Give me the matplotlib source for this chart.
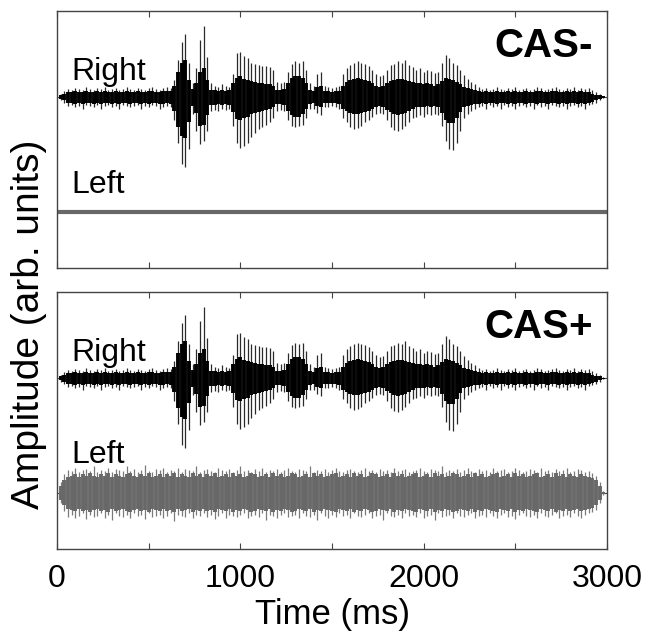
# 1. Imports
import numpy as np
import matplotlib
matplotlib.use("Agg")
import matplotlib.pyplot as plt

plt.rcParams["font.family"] = ["Liberation Sans", "DejaVu Sans"]


# 2. Data (envelopes, one value every 20 ms)
t_ms = np.arange(0, 3000, 20)

# right channel (speech): outer stroke tips
right_up = [0.00, 0.03, 0.05, 0.07, 0.06, 0.08, 0.07, 0.06, 0.09, 0.07,
            0.06, 0.08, 0.07, 0.09, 0.06, 0.07, 0.08, 0.06, 0.07, 0.09,
            0.07, 0.06, 0.08, 0.07, 0.06, 0.08, 0.09, 0.07, 0.06, 0.08,
            0.09, 0.08, 0.15, 0.32, 0.48, 0.55, 0.30, 0.12, 0.25, 0.50,
            0.62, 0.35, 0.12, 0.10, 0.09, 0.11, 0.10, 0.09, 0.20, 0.38,
            0.39, 0.36, 0.34, 0.30, 0.29, 0.28, 0.27, 0.27, 0.26, 0.24,
            0.13, 0.12, 0.13, 0.22, 0.29, 0.31, 0.30, 0.31, 0.24, 0.12,
            0.10, 0.20, 0.22, 0.10, 0.09, 0.08, 0.09, 0.10, 0.20, 0.25,
            0.28, 0.30, 0.31, 0.30, 0.29, 0.27, 0.24, 0.20, 0.18, 0.19,
            0.24, 0.28, 0.29, 0.31, 0.30, 0.32, 0.28, 0.26, 0.24, 0.25,
            0.22, 0.24, 0.23, 0.21, 0.22, 0.30, 0.37, 0.34, 0.30, 0.28,
            0.24, 0.19, 0.16, 0.13, 0.11, 0.09, 0.07, 0.08, 0.06, 0.07,
            0.09, 0.07, 0.06, 0.08, 0.07, 0.09, 0.06, 0.07, 0.08, 0.06,
            0.07, 0.09, 0.08, 0.06, 0.07, 0.08, 0.09, 0.07, 0.06, 0.08,
            0.07, 0.09, 0.06, 0.08, 0.07, 0.08, 0.06, 0.04, 0.03, 0.01]

right_lo = [0.00, 0.03, 0.05, 0.08, 0.07, 0.09, 0.08, 0.10, 0.07, 0.08,
            0.09, 0.07, 0.10, 0.08, 0.07, 0.09, 0.08, 0.10, 0.07, 0.08,
            0.09, 0.08, 0.07, 0.10, 0.08, 0.09, 0.07, 0.08, 0.10, 0.09,
            0.08, 0.09, 0.20, 0.40, 0.58, 0.61, 0.45, 0.15, 0.30, 0.41,
            0.38, 0.30, 0.12, 0.11, 0.12, 0.10, 0.11, 0.10, 0.25, 0.40,
            0.44, 0.43, 0.40, 0.35, 0.31, 0.28, 0.26, 0.24, 0.22, 0.18,
            0.12, 0.11, 0.12, 0.20, 0.25, 0.26, 0.25, 0.24, 0.18, 0.10,
            0.10, 0.14, 0.16, 0.09, 0.09, 0.08, 0.09, 0.10, 0.18, 0.22,
            0.26, 0.28, 0.27, 0.25, 0.22, 0.20, 0.17, 0.15, 0.14, 0.15,
            0.20, 0.26, 0.29, 0.30, 0.28, 0.25, 0.22, 0.18, 0.17, 0.16,
            0.17, 0.15, 0.16, 0.15, 0.16, 0.25, 0.38, 0.45, 0.46, 0.40,
            0.30, 0.18, 0.15, 0.12, 0.10, 0.09, 0.08, 0.10, 0.07, 0.09,
            0.08, 0.10, 0.07, 0.09, 0.08, 0.10, 0.08, 0.07, 0.09, 0.08,
            0.10, 0.07, 0.09, 0.08, 0.10, 0.07, 0.08, 0.09, 0.08, 0.10,
            0.08, 0.07, 0.09, 0.08, 0.10, 0.07, 0.06, 0.05, 0.03, 0.01]

# right channel: dense dark core
core_up = [0.00, 0.02, 0.03, 0.04, 0.04, 0.05, 0.04, 0.04, 0.05, 0.04,
           0.04, 0.05, 0.04, 0.05, 0.04, 0.04, 0.05, 0.04, 0.04, 0.05,
           0.04, 0.04, 0.05, 0.04, 0.04, 0.05, 0.05, 0.04, 0.04, 0.05,
           0.05, 0.05, 0.10, 0.22, 0.30, 0.32, 0.15, 0.07, 0.12, 0.22,
           0.25, 0.15, 0.06, 0.06, 0.05, 0.06, 0.05, 0.06, 0.12, 0.17,
           0.18, 0.16, 0.15, 0.14, 0.13, 0.12, 0.12, 0.11, 0.11, 0.10,
           0.06, 0.06, 0.07, 0.12, 0.17, 0.18, 0.18, 0.17, 0.12, 0.06,
           0.05, 0.09, 0.10, 0.05, 0.05, 0.04, 0.05, 0.05, 0.10, 0.13,
           0.15, 0.16, 0.17, 0.16, 0.15, 0.14, 0.12, 0.10, 0.09, 0.10,
           0.12, 0.14, 0.15, 0.16, 0.16, 0.15, 0.14, 0.13, 0.12, 0.12,
           0.11, 0.12, 0.11, 0.10, 0.11, 0.14, 0.17, 0.16, 0.15, 0.13,
           0.11, 0.09, 0.08, 0.07, 0.06, 0.05, 0.04, 0.05, 0.04, 0.04,
           0.05, 0.04, 0.04, 0.05, 0.04, 0.05, 0.04, 0.04, 0.05, 0.04,
           0.04, 0.05, 0.05, 0.04, 0.04, 0.05, 0.05, 0.04, 0.04, 0.05,
           0.04, 0.05, 0.04, 0.05, 0.04, 0.04, 0.03, 0.02, 0.015, 0.005]

core_lo = [0.00, 0.02, 0.03, 0.05, 0.05, 0.06, 0.05, 0.06, 0.05, 0.05,
           0.06, 0.05, 0.06, 0.05, 0.05, 0.06, 0.05, 0.06, 0.05, 0.05,
           0.06, 0.05, 0.05, 0.06, 0.05, 0.06, 0.05, 0.05, 0.06, 0.06,
           0.05, 0.06, 0.12, 0.26, 0.34, 0.36, 0.22, 0.08, 0.14, 0.25,
           0.24, 0.16, 0.07, 0.07, 0.06, 0.07, 0.06, 0.07, 0.13, 0.19,
           0.20, 0.18, 0.17, 0.15, 0.14, 0.13, 0.12, 0.11, 0.10, 0.09,
           0.06, 0.06, 0.07, 0.12, 0.16, 0.17, 0.17, 0.15, 0.10, 0.06,
           0.05, 0.08, 0.09, 0.05, 0.05, 0.05, 0.05, 0.06, 0.10, 0.12,
           0.14, 0.15, 0.15, 0.14, 0.13, 0.12, 0.10, 0.09, 0.08, 0.09,
           0.11, 0.13, 0.15, 0.16, 0.15, 0.14, 0.12, 0.10, 0.09, 0.09,
           0.09, 0.08, 0.09, 0.08, 0.09, 0.14, 0.20, 0.23, 0.23, 0.18,
           0.13, 0.09, 0.08, 0.07, 0.06, 0.06, 0.05, 0.06, 0.05, 0.05,
           0.06, 0.05, 0.05, 0.06, 0.05, 0.06, 0.05, 0.05, 0.06, 0.05,
           0.05, 0.06, 0.05, 0.05, 0.06, 0.05, 0.05, 0.06, 0.05, 0.06,
           0.05, 0.05, 0.06, 0.05, 0.06, 0.05, 0.04, 0.03, 0.02, 0.005]

# left channel masker (CAS+ only): stroke tips and dense core
left_up = [0.00, 0.09, 0.16, 0.20, 0.19, 0.22, 0.18, 0.20, 0.21, 0.19,
           0.23, 0.18, 0.20, 0.19, 0.22, 0.18, 0.21, 0.20, 0.19, 0.23,
           0.19, 0.21, 0.18, 0.20, 0.24, 0.19, 0.18, 0.21, 0.20, 0.22,
           0.18, 0.20, 0.19, 0.22, 0.18, 0.21, 0.20, 0.19, 0.23, 0.18,
           0.20, 0.21, 0.19, 0.18, 0.22, 0.20, 0.19, 0.21, 0.18, 0.20,
           0.23, 0.19, 0.20, 0.18, 0.21, 0.19, 0.22, 0.18, 0.20, 0.19,
           0.21, 0.18, 0.20, 0.22, 0.19, 0.18, 0.21, 0.20, 0.19, 0.23,
           0.18, 0.20, 0.19, 0.21, 0.18, 0.20, 0.22, 0.19, 0.18, 0.20,
           0.21, 0.19, 0.18, 0.20, 0.22, 0.19, 0.20, 0.18, 0.21, 0.19,
           0.20, 0.18, 0.22, 0.19, 0.20, 0.21, 0.18, 0.19, 0.20, 0.22,
           0.19, 0.18, 0.21, 0.20, 0.19, 0.23, 0.18, 0.20, 0.19, 0.21,
           0.18, 0.20, 0.22, 0.19, 0.18, 0.21, 0.19, 0.20, 0.18, 0.22,
           0.19, 0.20, 0.21, 0.18, 0.19, 0.22, 0.20, 0.18, 0.19, 0.21,
           0.20, 0.18, 0.22, 0.19, 0.20, 0.18, 0.21, 0.19, 0.20, 0.22,
           0.18, 0.19, 0.21, 0.20, 0.18, 0.19, 0.17, 0.15, 0.09, 0.02]

left_lo = [0.00, 0.09, 0.16, 0.21, 0.19, 0.22, 0.20, 0.18, 0.23, 0.19,
           0.21, 0.20, 0.18, 0.22, 0.19, 0.24, 0.18, 0.20, 0.21, 0.19,
           0.22, 0.18, 0.20, 0.19, 0.23, 0.18, 0.21, 0.20, 0.19, 0.22,
           0.20, 0.18, 0.25, 0.19, 0.20, 0.21, 0.18, 0.22, 0.19, 0.20,
           0.18, 0.21, 0.19, 0.23, 0.20, 0.18, 0.22, 0.19, 0.20, 0.21,
           0.19, 0.18, 0.22, 0.20, 0.19, 0.21, 0.18, 0.24, 0.19, 0.20,
           0.22, 0.19, 0.18, 0.21, 0.20, 0.19, 0.22, 0.18, 0.20, 0.21,
           0.19, 0.24, 0.18, 0.20, 0.22, 0.19, 0.21, 0.18, 0.20, 0.19,
           0.22, 0.18, 0.20, 0.21, 0.19, 0.18, 0.22, 0.20, 0.19, 0.24,
           0.18, 0.20, 0.21, 0.19, 0.22, 0.18, 0.20, 0.19, 0.21, 0.18,
           0.22, 0.20, 0.19, 0.24, 0.18, 0.21, 0.20, 0.19, 0.22, 0.18,
           0.20, 0.21, 0.19, 0.18, 0.22, 0.20, 0.19, 0.21, 0.18, 0.20,
           0.22, 0.19, 0.18, 0.21, 0.20, 0.23, 0.19, 0.18, 0.20, 0.21,
           0.19, 0.22, 0.18, 0.20, 0.21, 0.19, 0.18, 0.22, 0.20, 0.19,
           0.21, 0.18, 0.20, 0.22, 0.19, 0.18, 0.17, 0.15, 0.09, 0.02]

left_core = [0.00, 0.06, 0.11, 0.14, 0.15, 0.16, 0.14, 0.16, 0.15, 0.17,
             0.15, 0.14, 0.16, 0.15, 0.17, 0.14, 0.16, 0.15, 0.14, 0.16,
             0.17, 0.15, 0.14, 0.16, 0.15, 0.17, 0.14, 0.15, 0.16, 0.14,
             0.16, 0.15, 0.17, 0.14, 0.16, 0.15, 0.14, 0.17, 0.15, 0.16,
             0.14, 0.16, 0.15, 0.17, 0.14, 0.15, 0.16, 0.14, 0.17, 0.15,
             0.16, 0.14, 0.15, 0.17, 0.16, 0.14, 0.15, 0.16, 0.14, 0.17,
             0.15, 0.16, 0.14, 0.15, 0.17, 0.16, 0.14, 0.15, 0.16, 0.14,
             0.17, 0.15, 0.16, 0.14, 0.15, 0.16, 0.17, 0.14, 0.15, 0.16,
             0.14, 0.17, 0.15, 0.16, 0.14, 0.15, 0.17, 0.16, 0.14, 0.15,
             0.16, 0.14, 0.17, 0.15, 0.16, 0.14, 0.15, 0.16, 0.17, 0.14,
             0.15, 0.16, 0.14, 0.17, 0.15, 0.16, 0.14, 0.15, 0.17, 0.16,
             0.14, 0.15, 0.16, 0.14, 0.17, 0.15, 0.16, 0.14, 0.15, 0.16,
             0.17, 0.14, 0.15, 0.16, 0.14, 0.17, 0.15, 0.16, 0.14, 0.15,
             0.16, 0.17, 0.14, 0.15, 0.16, 0.14, 0.17, 0.15, 0.16, 0.14,
             0.16, 0.15, 0.14, 0.16, 0.15, 0.14, 0.13, 0.11, 0.06, 0.01]

panels = ["CAS-", "CAS+"]
right_offset = 1.0
left_offset = 0.0
gray = "#686868"


# 3. Figure
fig = plt.figure(figsize=(6.53, 6.39), dpi=100)
ax_top = fig.add_axes([0.0873, 0.5806, 0.8423, 0.4022])
ax_bot = fig.add_axes([0.0873, 0.1408, 0.8423, 0.4022])


def draw_panel(ax, name):
    """Right channel (speech) on top, left channel below."""
    ax.vlines(t_ms, right_offset - np.array(right_lo), right_offset + np.array(right_up),
              color="#2a2a2a", lw=0.9, capstyle="butt")
    ax.vlines(t_ms, right_offset - np.array(core_lo), right_offset + np.array(core_up),
              color="black", lw=2.8, capstyle="butt")

    if name == "CAS+":
        lc = np.array(left_core)
        ax.vlines(t_ms, left_offset - np.array(left_lo), left_offset + np.array(left_up),
                  color="#7a7a7a", lw=0.9, capstyle="butt")
        ax.vlines(t_ms, left_offset - lc, left_offset + lc, color=gray, lw=2.8,
                  capstyle="butt")
    else:
        ax.plot([0, 3000], [left_offset, left_offset], color=gray, lw=3)

    ax.set_xlim(0, 3000)
    ax.set_ylim(-0.49, 1.75)
    ax.set_xticks([0, 500, 1000, 1500, 2000, 2500, 3000])
    ax.set_yticks([0, 1])
    ax.set_yticklabels([])
    ax.tick_params(direction="in", length=4, top=True, right=True, color="#444444",
                   labelsize=23, pad=11)
    for sp in ax.spines.values():
        sp.set_color("#444444")
        sp.set_linewidth(1.0)

    ax.text(0.027, 0.73, "Right", transform=ax.transAxes, fontsize=23, va="baseline")
    ax.text(0.027, 0.29 if name == "CAS-" else 0.335, "Left", transform=ax.transAxes,
            fontsize=23, va="baseline")
    ax.text(0.975, 0.82, name, transform=ax.transAxes, fontsize=29, fontweight="bold",
            ha="right", va="baseline")


draw_panel(ax_top, "CAS-")
draw_panel(ax_bot, "CAS+")
ax_top.set_xticklabels([])
ax_bot.set_xticklabels(["0", "", "1000", "", "2000", "", "3000"])
ax_bot.set_xlabel("Time (ms)", fontsize=25, labelpad=3)

fig.text(0.045, 0.493, "Amplitude (arb. units)", rotation=90, fontsize=28,
         ha="center", va="center")

fig.savefig("out.png", dpi=100)
